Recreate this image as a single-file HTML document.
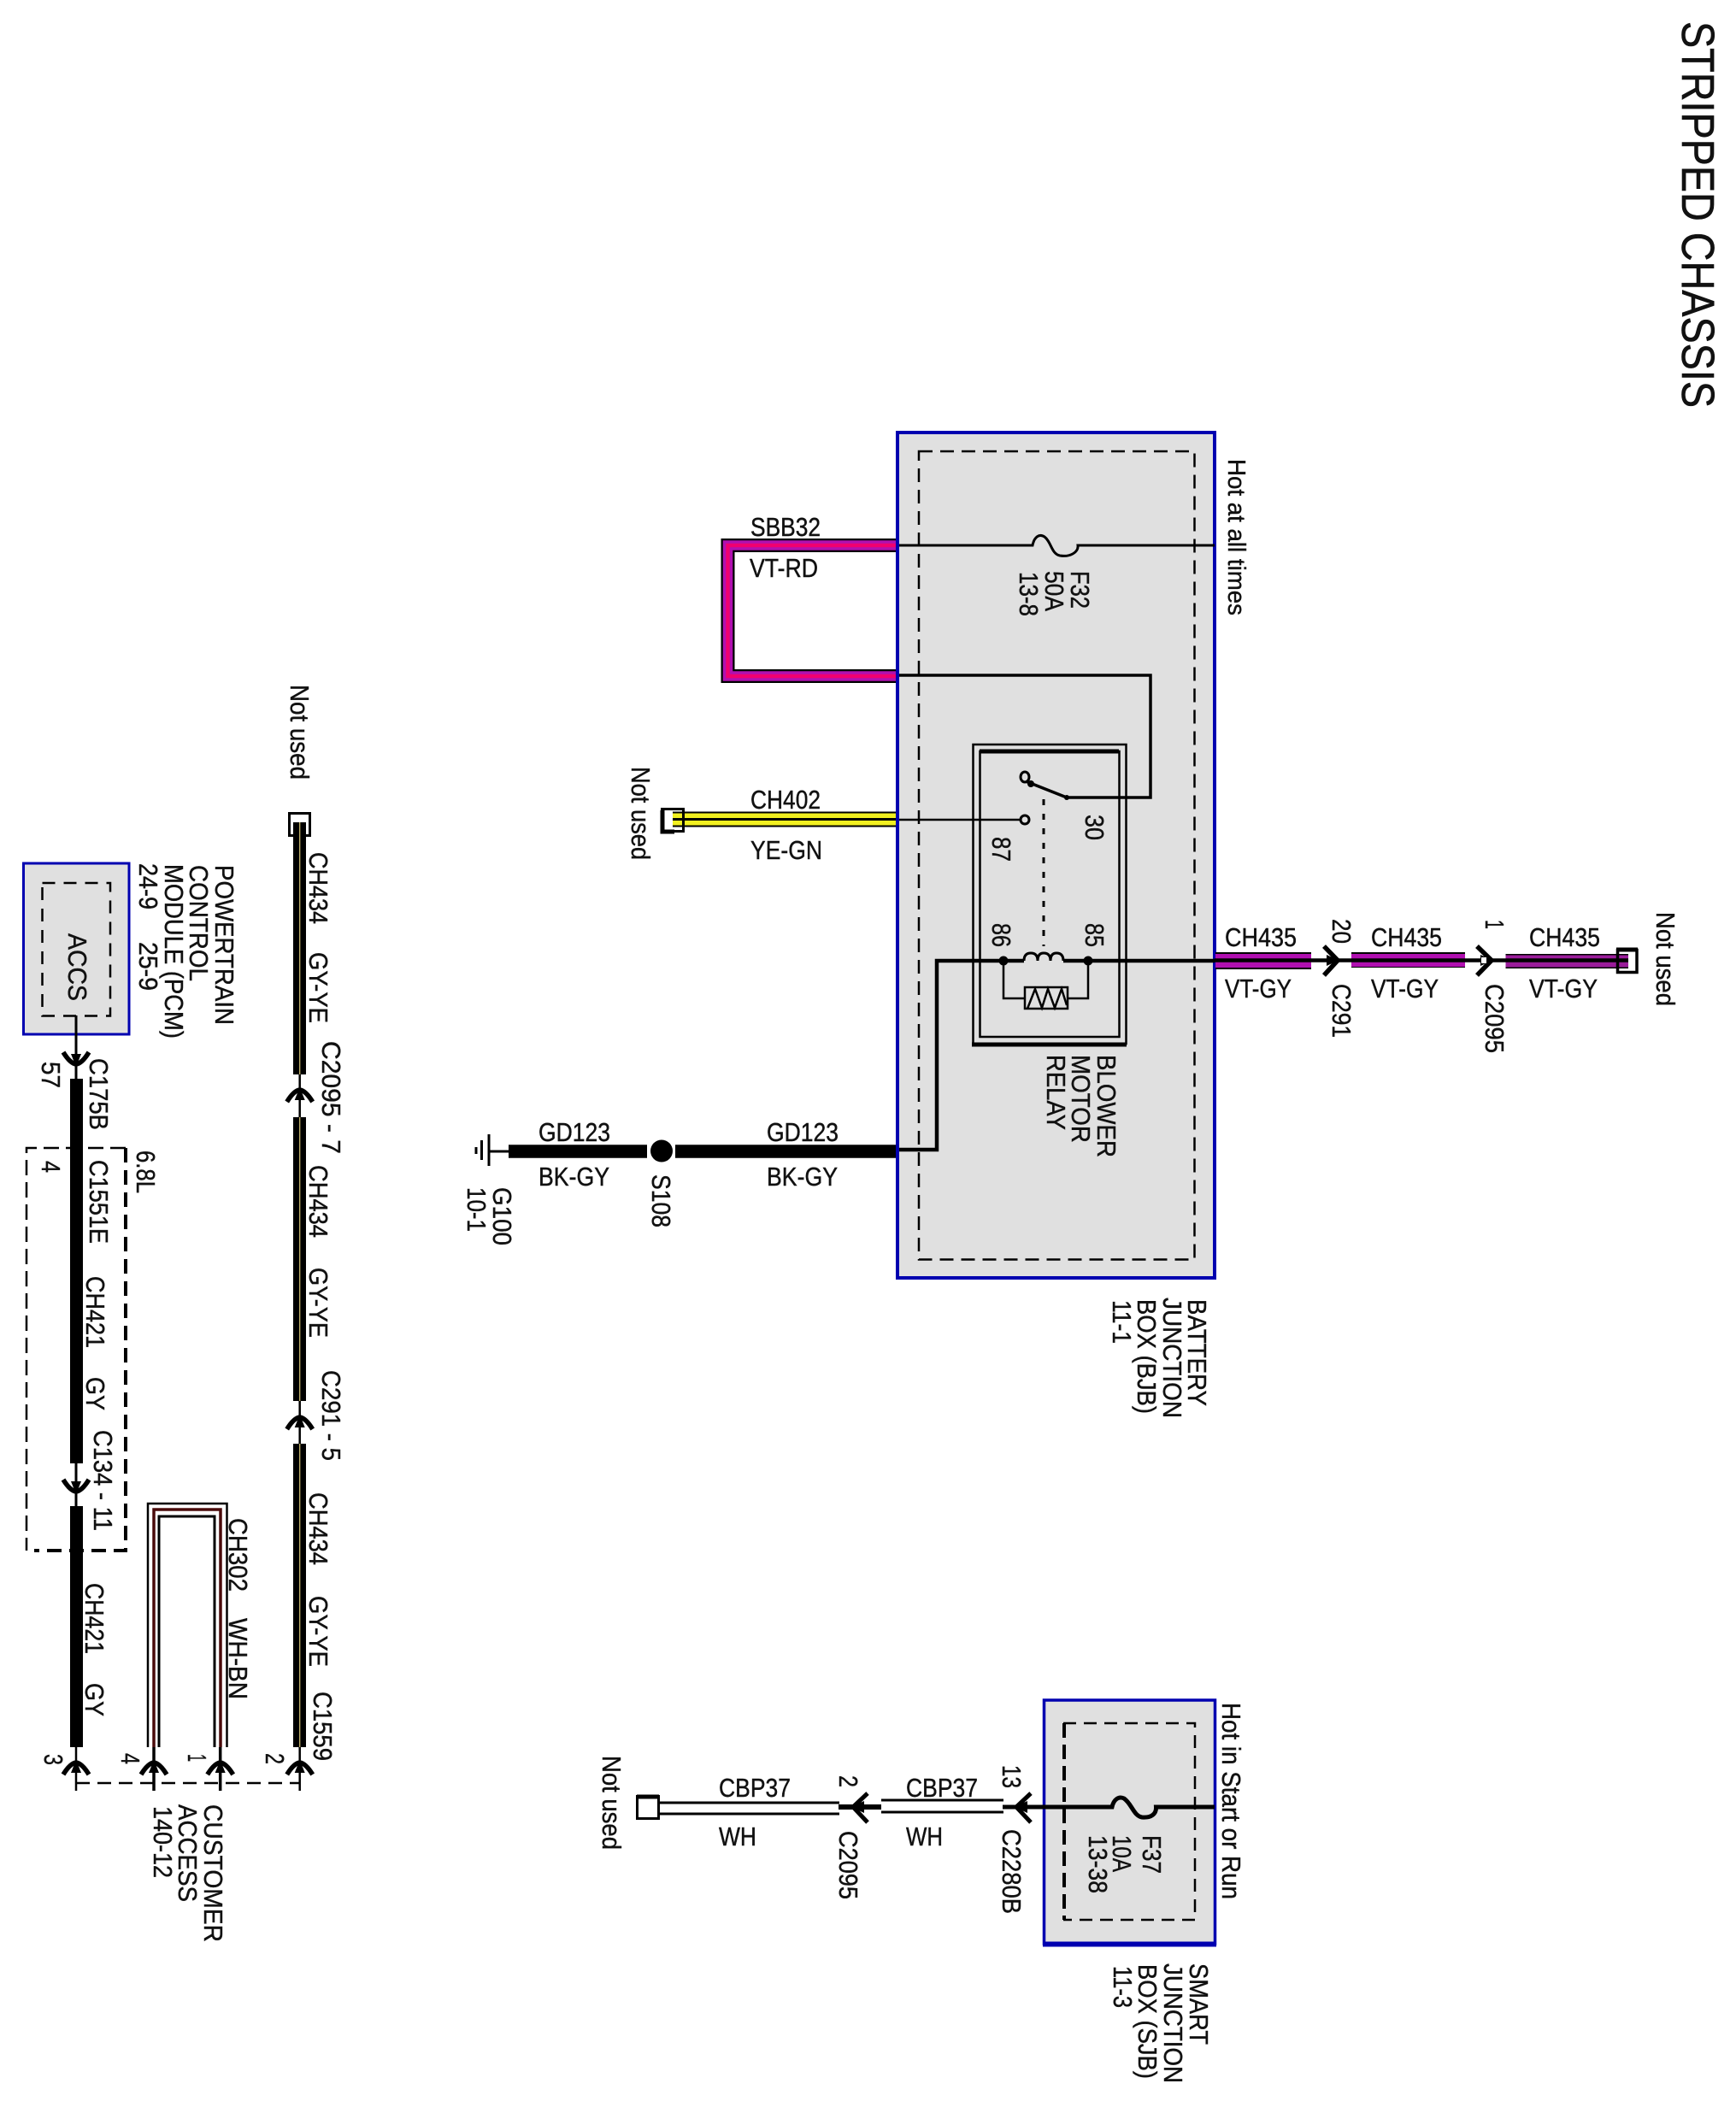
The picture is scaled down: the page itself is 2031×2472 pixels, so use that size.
<!DOCTYPE html>
<html>
<head>
<meta charset="utf-8">
<style>
html,body{margin:0;padding:0;background:#fff}
svg{display:block}
text{font-family:"Liberation Sans",sans-serif;font-size:31px;fill:#111;stroke:#111;stroke-width:.45px}
</style>
</head>
<body>
<svg width="2031" height="2472" viewBox="0 0 2031 2472" xmlns="http://www.w3.org/2000/svg">
<defs>
<g id="up" fill="none" stroke="#000">
<path d="M-15,17 Q-7,4 0,3 Q7,4 15,17" stroke-width="5.500"/>
<path d="M-6,15 L0,0 L6,15 Z" fill="#000" stroke="none"/>
</g>
</defs>
<rect width="2031" height="2472" fill="#fff"/>

<!-- Title -->
<text transform="translate(1968,25) rotate(90)" style="font-size:54px;stroke-width:.6px" textLength="452" lengthAdjust="spacingAndGlyphs">STRIPPED CHASSIS</text>

<!-- BJB -->
<rect x="1050" y="506" width="371" height="989" fill="#e0e0e0" stroke="#0000b0" stroke-width="4"/>
<rect x="1075" y="528" width="322.500" height="945.500" fill="none" stroke="#000" stroke-width="2.500" stroke-dasharray="16 9"/>

<!-- SBB32 wire -->
<path d="M1048,638 H851.500 V791 H1048" fill="none" stroke="#000" stroke-width="16"/>
<path d="M1048,638 H851.500 V791 H1048" fill="none" stroke="#b010b0" stroke-width="11.500"/>
<path d="M1048,638 H851.500 V791 H1048" fill="none" stroke="#f00070" stroke-width="4.500"/>
<rect x="1048" y="504" width="4" height="993" fill="#0000b0"/>
<text x="878" y="627" textLength="82" lengthAdjust="spacingAndGlyphs">SBB32</text>
<text x="877" y="675" textLength="80" lengthAdjust="spacingAndGlyphs">VT-RD</text>

<!-- F32 fuse -->
<path d="M1052,638 H1208 C1210,628 1216,624 1222,628 C1230,634 1230,648 1240,650 C1252,652 1262,646 1261,638 H1421" fill="none" stroke="#000" stroke-width="3"/>
<text transform="translate(1253,668) rotate(90)" textLength="44" lengthAdjust="spacingAndGlyphs">F32</text>
<text transform="translate(1223,668) rotate(90)" textLength="47" lengthAdjust="spacingAndGlyphs">50A</text>
<text transform="translate(1193,669) rotate(90)" textLength="52" lengthAdjust="spacingAndGlyphs">13-8</text>
<text transform="translate(1437,537) rotate(90)" style="font-size:29px" textLength="183" lengthAdjust="spacingAndGlyphs">Hot at all times</text>

<!-- Relay -->
<rect x="1138.500" y="871" width="179" height="350" fill="none" stroke="#000" stroke-width="2.500"/>
<rect x="1146.500" y="879" width="163" height="334" fill="none" stroke="#000" stroke-width="2.500"/>
<path d="M1146,879 H1309" stroke="#000" stroke-width="5" fill="none"/>
<path d="M1137,1222 H1318" stroke="#000" stroke-width="5" fill="none"/>
<path d="M1052,790 H1346 V933 H1248" fill="none" stroke="#000" stroke-width="3.500"/>
<path d="M1248,933 L1200,914" fill="none" stroke="#000" stroke-width="3.500"/>
<circle cx="1248" cy="933" r="3" fill="#000"/>
<circle cx="1206" cy="917" r="4" fill="#000"/>
<ellipse cx="1199" cy="909" rx="5" ry="6" fill="#e0e0e0" stroke="#000" stroke-width="3"/>
<ellipse cx="1199" cy="959" rx="5" ry="5" fill="#e0e0e0" stroke="#000" stroke-width="3"/>
<path d="M1052,959 H1194" fill="none" stroke="#000" stroke-width="2.500"/>
<path d="M1221,935 V1107" fill="none" stroke="#000" stroke-width="3" stroke-dasharray="7 10"/>
<text transform="translate(1270,953) rotate(90)" textLength="30" lengthAdjust="spacingAndGlyphs">30</text>
<text transform="translate(1161,979) rotate(90)" textLength="29" lengthAdjust="spacingAndGlyphs">87</text>
<text transform="translate(1161,1080) rotate(90)" textLength="28" lengthAdjust="spacingAndGlyphs">86</text>
<text transform="translate(1270,1080) rotate(90)" textLength="28" lengthAdjust="spacingAndGlyphs">85</text>
<text transform="translate(1284,1234) rotate(90)" textLength="120" lengthAdjust="spacingAndGlyphs">BLOWER</text>
<text transform="translate(1254,1234) rotate(90)" textLength="103" lengthAdjust="spacingAndGlyphs">MOTOR</text>
<text transform="translate(1225,1234) rotate(90)" textLength="88" lengthAdjust="spacingAndGlyphs">RELAY</text>

<!-- coil line -->
<path d="M1052,1345 H1096 V1124 H1198 M1244,1124 H1421" fill="none" stroke="#000" stroke-width="4.500"/>
<path d="M1198,1124 Q1198,1115 1206,1115 Q1214,1115 1214,1124 Q1214,1115 1221,1115 Q1229,1115 1229,1124 Q1229,1115 1236,1115 Q1244,1115 1244,1124" fill="none" stroke="#000" stroke-width="3"/>
<circle cx="1174" cy="1124" r="5.500" fill="#000"/>
<circle cx="1273" cy="1124" r="5.500" fill="#000"/>
<path d="M1174,1124 V1168 H1199 M1249,1168 H1273 V1124" fill="none" stroke="#000" stroke-width="2.500"/>
<rect x="1199" y="1155" width="50" height="25" fill="#e0e0e0" stroke="#000" stroke-width="2.500"/>
<path d="M1202,1180 L1211,1157 L1219,1179 L1226,1157 L1234,1179 L1242,1157 L1248,1176" fill="none" stroke="#000" stroke-width="2.500"/>

<!-- BJB labels -->
<text transform="translate(1390,1520) rotate(90)" textLength="125" lengthAdjust="spacingAndGlyphs">BATTERY</text>
<text transform="translate(1361,1518) rotate(90)" textLength="141" lengthAdjust="spacingAndGlyphs">JUNCTION</text>
<text transform="translate(1331,1520) rotate(90)" textLength="134" lengthAdjust="spacingAndGlyphs">BOX (BJB)</text>
<text transform="translate(1302,1521) rotate(90)" textLength="51" lengthAdjust="spacingAndGlyphs">11-1</text>

<!-- CH402 -->
<path d="M787,958.500 H1048" stroke="#000" stroke-width="18" fill="none"/>
<path d="M787,958.500 H1048" stroke="#f2f020" stroke-width="14" fill="none"/>
<path d="M787,958.500 H1048" stroke="#000" stroke-width="3" fill="none"/>
<rect x="774.500" y="946.500" width="25" height="26" fill="none" stroke="#000" stroke-width="3"/>
<path d="M775,948 V973 H789" fill="none" stroke="#000" stroke-width="5"/>
<text x="878" y="946" textLength="82" lengthAdjust="spacingAndGlyphs">CH402</text>
<text x="878" y="1005" textLength="84" lengthAdjust="spacingAndGlyphs">YE-GN</text>
<text transform="translate(739,897) rotate(90)" textLength="109" lengthAdjust="spacingAndGlyphs">Not used</text>

<!-- GD123 -->
<path d="M595,1347 H757 M790,1347 H1048" stroke="#000" stroke-width="15.500" fill="none"/>
<circle cx="774" cy="1346.500" r="13" fill="#000"/>
<path d="M572,1347 H595" stroke="#000" stroke-width="3" fill="none"/>
<path d="M572,1327 V1364 M563.500,1334 V1357 M557,1342 V1350" stroke="#000" stroke-width="3" fill="none"/>
<text x="630" y="1335" textLength="84" lengthAdjust="spacingAndGlyphs">GD123</text>
<text x="897" y="1335" textLength="84" lengthAdjust="spacingAndGlyphs">GD123</text>
<text x="630" y="1387" textLength="83" lengthAdjust="spacingAndGlyphs">BK-GY</text>
<text x="897" y="1387" textLength="83" lengthAdjust="spacingAndGlyphs">BK-GY</text>
<text transform="translate(577,1389) rotate(90)" textLength="68" lengthAdjust="spacingAndGlyphs">G100</text>
<text transform="translate(547,1389) rotate(90)" textLength="52" lengthAdjust="spacingAndGlyphs">10-1</text>
<text transform="translate(763,1374) rotate(90)" textLength="62" lengthAdjust="spacingAndGlyphs">S108</text>

<!-- CH435 -->
<g fill="none">
<path d="M1422,1124 H1534" stroke="#000" stroke-width="20"/>
<path d="M1581,1123 H1714" stroke="#000" stroke-width="18"/>
<path d="M1761.500,1124.500 H1905" stroke="#000" stroke-width="17"/>
<path d="M1422,1124 H1534" stroke="#b010b0" stroke-width="16"/>
<path d="M1581,1123.500 H1714" stroke="#b010b0" stroke-width="15"/>
<path d="M1761.500,1124.500 H1905" stroke="#9a1c9a" stroke-width="14"/>
<path d="M1421,1123.500 H1905" stroke="#000" stroke-width="4.500"/>
<path d="M1549,1107 L1565,1123.500 L1549,1141" stroke="#000" stroke-width="5.500"/>
<path d="M1728,1107 L1745,1123.500 L1728,1141" stroke="#000" stroke-width="5.500"/>
</g>
<path d="M1566,1123.500 L1552,1117 V1130 Z" fill="#000"/>
<path d="M1746,1123.500 L1732,1117 V1130 Z" fill="#000"/>
<rect x="1733" y="1120" width="6" height="7" fill="#fff"/>
<rect x="1892.500" y="1111.500" width="22.500" height="26" fill="none" stroke="#000" stroke-width="3.500"/>
<path d="M1891,1111 H1916" stroke="#000" stroke-width="5" fill="none"/>
<text x="1433" y="1107" textLength="84" lengthAdjust="spacingAndGlyphs">CH435</text>
<text x="1604" y="1107" textLength="83" lengthAdjust="spacingAndGlyphs">CH435</text>
<text x="1789" y="1107" textLength="83" lengthAdjust="spacingAndGlyphs">CH435</text>
<text x="1433" y="1167" textLength="78" lengthAdjust="spacingAndGlyphs">VT-GY</text>
<text x="1604" y="1167" textLength="79" lengthAdjust="spacingAndGlyphs">VT-GY</text>
<text x="1789" y="1167" textLength="80" lengthAdjust="spacingAndGlyphs">VT-GY</text>
<text transform="translate(1559,1075) rotate(90)" textLength="29" lengthAdjust="spacingAndGlyphs">20</text>
<text transform="translate(1559,1151) rotate(90)" textLength="63" lengthAdjust="spacingAndGlyphs">C291</text>
<text transform="translate(1738,1076) rotate(90)" textLength="11" lengthAdjust="spacingAndGlyphs">1</text>
<text transform="translate(1738,1151) rotate(90)" textLength="81" lengthAdjust="spacingAndGlyphs">C2095</text>
<text transform="translate(1938,1067) rotate(90)" textLength="110" lengthAdjust="spacingAndGlyphs">Not used</text>

<!-- SJB -->
<rect x="1221.500" y="1989" width="200" height="285" fill="#e0e0e0" stroke="#0000b0" stroke-width="3.500"/>
<path d="M1220,2274.500 H1423" stroke="#0000b0" stroke-width="6" fill="none"/>
<path d="M1244,2016 H1398 V2246 H1244" fill="none" stroke="#000" stroke-width="2.500" stroke-dasharray="15 9"/>
<path d="M1245,2016 V2246" fill="none" stroke="#000" stroke-width="4" stroke-dasharray="17 8"/>
<path d="M1173,2114 H1301 C1303,2105 1309,2101 1315,2104 C1324,2110 1326,2124 1336,2126 C1347,2127 1353,2122 1352.500,2114 H1421" fill="none" stroke="#000" stroke-width="5"/>
<path d="M1206,2098 L1189,2114 L1206,2132" fill="none" stroke="#000" stroke-width="5"/>
<path d="M1187,2114 L1202,2107 V2121 Z" fill="#000"/>
<path d="M981,2114 H1031" fill="none" stroke="#000" stroke-width="6"/>
<path d="M1015,2098 L998,2114 L1015,2132" fill="none" stroke="#000" stroke-width="5"/>
<path d="M996,2114 L1011,2107 V2121 Z" fill="#000"/>
<path d="M1031,2106 H1174 M1031,2120 H1174" stroke="#000" stroke-width="3" fill="none"/>
<path d="M772,2109 H982 M772,2122 H982" stroke="#000" stroke-width="3" fill="none"/>
<rect x="745.500" y="2101.500" width="25" height="26" fill="none" stroke="#000" stroke-width="3"/>
<path d="M745,2102 H771" stroke="#000" stroke-width="5" fill="none"/>
<text transform="translate(705,2054) rotate(90)" textLength="110" lengthAdjust="spacingAndGlyphs">Not used</text>
<text x="841" y="2102" textLength="84" lengthAdjust="spacingAndGlyphs">CBP37</text>
<text x="1060" y="2102" textLength="84" lengthAdjust="spacingAndGlyphs">CBP37</text>
<text x="841" y="2159" textLength="44" lengthAdjust="spacingAndGlyphs">WH</text>
<text x="1060" y="2159" textLength="43" lengthAdjust="spacingAndGlyphs">WH</text>
<text transform="translate(982,2077) rotate(90)" textLength="14" lengthAdjust="spacingAndGlyphs">2</text>
<text transform="translate(982,2142) rotate(90)" textLength="80" lengthAdjust="spacingAndGlyphs">C2095</text>
<text transform="translate(1173,2065) rotate(90)" textLength="27" lengthAdjust="spacingAndGlyphs">13</text>
<text transform="translate(1173,2140) rotate(90)" textLength="99" lengthAdjust="spacingAndGlyphs">C2280B</text>
<text transform="translate(1337,2147) rotate(90)" textLength="45" lengthAdjust="spacingAndGlyphs">F37</text>
<text transform="translate(1302,2147) rotate(90)" textLength="43" lengthAdjust="spacingAndGlyphs">10A</text>
<text transform="translate(1274,2147) rotate(90)" textLength="68" lengthAdjust="spacingAndGlyphs">13-38</text>
<text transform="translate(1430,1992) rotate(90)" textLength="230" lengthAdjust="spacingAndGlyphs">Hot in Start or Run</text>
<text transform="translate(1392,2297) rotate(90)" textLength="95" lengthAdjust="spacingAndGlyphs">SMART</text>
<text transform="translate(1362,2297) rotate(90)" textLength="140" lengthAdjust="spacingAndGlyphs">JUNCTION</text>
<text transform="translate(1332,2298) rotate(90)" textLength="134" lengthAdjust="spacingAndGlyphs">BOX (SJB)</text>
<text transform="translate(1303,2300) rotate(90)" textLength="49" lengthAdjust="spacingAndGlyphs">11-3</text>

<!-- PCM -->
<rect x="27.500" y="1010" width="123.500" height="200" fill="#e0e0e0" stroke="#0000b0" stroke-width="3"/>
<rect x="49.500" y="1033" width="79.500" height="155.500" fill="none" stroke="#000" stroke-width="2.500" stroke-dasharray="15 10"/>
<text transform="translate(80,1092) rotate(90)" textLength="79" lengthAdjust="spacingAndGlyphs">ACCS</text>
<text transform="translate(252,1012) rotate(90)" textLength="187" lengthAdjust="spacingAndGlyphs">POWERTRAIN</text>
<text transform="translate(222,1012) rotate(90)" textLength="136" lengthAdjust="spacingAndGlyphs">CONTROL</text>
<text transform="translate(193,1011) rotate(90)" textLength="204" lengthAdjust="spacingAndGlyphs">MODULE (PCM)</text>
<text transform="translate(163,1010) rotate(90)" textLength="54" lengthAdjust="spacingAndGlyphs">24-9</text>
<text transform="translate(163,1102) rotate(90)" textLength="57" lengthAdjust="spacingAndGlyphs">25-9</text>
<text transform="translate(49,1242) rotate(90)" textLength="31" lengthAdjust="spacingAndGlyphs">57</text>
<text transform="translate(105,1238) rotate(90)" textLength="84" lengthAdjust="spacingAndGlyphs">C175B</text>
<text transform="translate(49,1358) rotate(90)" textLength="14" lengthAdjust="spacingAndGlyphs">4</text>
<text transform="translate(105,1357) rotate(90)" textLength="98" lengthAdjust="spacingAndGlyphs">C1551E</text>
<text transform="translate(160,1346) rotate(90)" textLength="50" lengthAdjust="spacingAndGlyphs">6.8L</text>
<text transform="translate(101,1493) rotate(90)" textLength="84" lengthAdjust="spacingAndGlyphs">CH421</text>
<text transform="translate(101,1611) rotate(90)" textLength="39" lengthAdjust="spacingAndGlyphs">GY</text>
<text transform="translate(110,1673) rotate(90)" textLength="118" lengthAdjust="spacingAndGlyphs">C134 - 11</text>

<!-- 6.8L dashed -->
<path d="M147,1343 H31 V1814" fill="none" stroke="#000" stroke-width="2.500" stroke-dasharray="18 8"/>
<path d="M147,1343 V1814 H40" fill="none" stroke="#000" stroke-width="4" stroke-dasharray="17 9"/>

<!-- CH421 -->
<path d="M89,1188 V1262" stroke="#000" stroke-width="3" fill="none"/>
<use href="#up" transform="translate(89,1248) scale(1,-1)"/>
<rect x="82" y="1262" width="15" height="450" fill="#000"/>
<path d="M89,1711 V1762" stroke="#000" stroke-width="3" fill="none"/>
<use href="#up" transform="translate(89,1748) scale(1,-1)"/>
<rect x="82" y="1762" width="15" height="282" fill="#000"/>
<text transform="translate(100,1852) rotate(90)" textLength="83" lengthAdjust="spacingAndGlyphs">CH421</text>
<text transform="translate(100,1969) rotate(90)" textLength="39" lengthAdjust="spacingAndGlyphs">GY</text>

<!-- CH302 loop -->
<path d="M173,2044 V1759 H265.500 V2044" fill="none" stroke="#000" stroke-width="2.500"/>
<path d="M186,2044 V1774 H251 V2044" fill="none" stroke="#000" stroke-width="3"/>
<path d="M180,2044 V1766 H258 V2044" fill="none" stroke="#4a0a0a" stroke-width="3.500"/>
<text transform="translate(268,1776) rotate(90)" textLength="86" lengthAdjust="spacingAndGlyphs">CH302</text>
<text transform="translate(268,1893) rotate(90)" textLength="95" lengthAdjust="spacingAndGlyphs">WH-BN</text>

<!-- CH434 -->
<rect x="338.500" y="951.500" width="24" height="26" fill="#fff" stroke="#000" stroke-width="3"/>
<rect x="343" y="962" width="15" height="295" fill="#000"/>
<rect x="343" y="1307" width="15" height="332" fill="#000"/>
<rect x="343" y="1689" width="15" height="355" fill="#000"/>
<path d="M350.700,962 V1257 M350.700,1307 V1639 M350.700,1689 V2044" stroke="#c8b870" stroke-width="1.300" fill="none"/>
<path d="M350.700,1257 V1307 M350.700,1639 V1689" stroke="#000" stroke-width="2.500" fill="none"/>
<use href="#up" transform="translate(350.700,1272)"/>
<use href="#up" transform="translate(350.700,1655)"/>
<text transform="translate(340,801) rotate(90)" textLength="111" lengthAdjust="spacingAndGlyphs">Not used</text>
<text transform="translate(362,997) rotate(90)" textLength="84" lengthAdjust="spacingAndGlyphs">CH434</text>
<text transform="translate(362,1114) rotate(90)" textLength="83" lengthAdjust="spacingAndGlyphs">GY-YE</text>
<text transform="translate(377,1218) rotate(90)" textLength="132" lengthAdjust="spacingAndGlyphs">C2095 - 7</text>
<text transform="translate(362,1363) rotate(90)" textLength="85" lengthAdjust="spacingAndGlyphs">CH434</text>
<text transform="translate(362,1483) rotate(90)" textLength="82" lengthAdjust="spacingAndGlyphs">GY-YE</text>
<text transform="translate(377,1603) rotate(90)" textLength="106" lengthAdjust="spacingAndGlyphs">C291 - 5</text>
<text transform="translate(362,1746) rotate(90)" textLength="85" lengthAdjust="spacingAndGlyphs">CH434</text>
<text transform="translate(362,1867) rotate(90)" textLength="83" lengthAdjust="spacingAndGlyphs">GY-YE</text>
<text transform="translate(367,1979) rotate(90)" textLength="81" lengthAdjust="spacingAndGlyphs">C1559</text>

<!-- bottom connector row -->
<path d="M89,2044 V2095 M350.700,2044 V2095" stroke="#000" stroke-width="2.500" fill="none"/>
<path d="M180,2044 V2095 M257.700,2044 V2095" stroke="#000" stroke-width="3.500" fill="none"/>
<use href="#up" transform="translate(89,2059)"/>
<use href="#up" transform="translate(180,2059)"/>
<use href="#up" transform="translate(257.700,2059)"/>
<use href="#up" transform="translate(350.700,2059)"/>
<path d="M89,2086 H351" stroke="#000" stroke-width="2.500" stroke-dasharray="16 9" fill="none"/>
<text transform="translate(52,2052) rotate(90)" textLength="13" lengthAdjust="spacingAndGlyphs">3</text>
<text transform="translate(142,2051) rotate(90)" textLength="13" lengthAdjust="spacingAndGlyphs">4</text>
<text transform="translate(220,2052) rotate(90)" textLength="9" lengthAdjust="spacingAndGlyphs">1</text>
<text transform="translate(311,2051) rotate(90)" textLength="13" lengthAdjust="spacingAndGlyphs">2</text>
<text transform="translate(239,2111) rotate(90)" textLength="161" lengthAdjust="spacingAndGlyphs">CUSTOMER</text>
<text transform="translate(209,2111) rotate(90)" textLength="114" lengthAdjust="spacingAndGlyphs">ACCESS</text>
<text transform="translate(180,2113) rotate(90)" textLength="84" lengthAdjust="spacingAndGlyphs">140-12</text>
</svg>
</body>
</html>
